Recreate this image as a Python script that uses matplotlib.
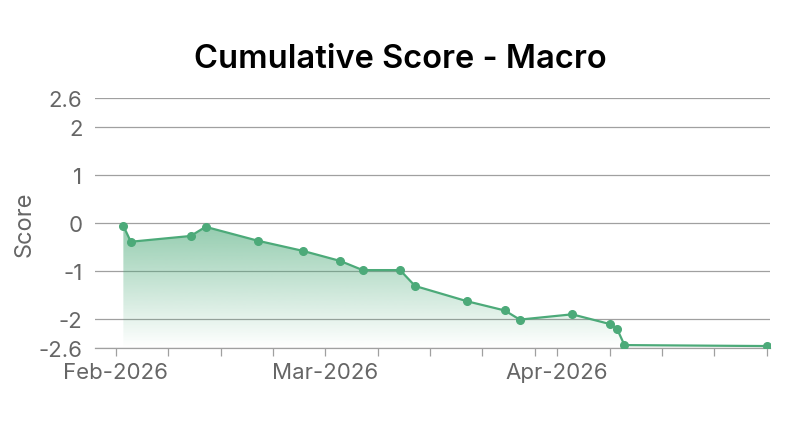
import numpy as np
import pandas as pd
import matplotlib
matplotlib.use("Agg")
import matplotlib.pyplot as plt
import matplotlib.dates as mdates

dates = ["2026-02-02", "2026-02-03", "2026-02-11", "2026-02-13", "2026-02-20",
         "2026-02-26", "2026-03-03", "2026-03-06", "2026-03-11", "2026-03-13",
         "2026-03-20", "2026-03-25", "2026-03-27", "2026-04-03", "2026-04-08",
         "2026-04-09", "2026-04-10", "2026-04-29"]
scores = [-0.06, -0.39, -0.27, -0.08, -0.37, -0.58, -0.79, -0.98, -0.98, -1.31,
          -1.63, -1.82, -2.01, -1.90, -2.10, -2.20, -2.54, -2.56]
yticks = [-2.6, -2, -1, 0, 1, 2, 2.6]
ytick_labels = ["-2.6", "-2", "-1", "0", "1", "2", "2.6"]

plt.rcParams['font.family'] = ['Inter', 'DejaVu Sans']
green = '#4caa79'
grey = '#666666'

x = mdates.date2num(pd.to_datetime(dates))
y = np.array(scores)

fig = plt.figure(figsize=(8, 4.31), dpi=100)
ax = fig.add_axes([0.11875, 0.1903, 0.84375, 0.58])

ymin, ymax = -2.6, 2.6

# gradient fill under the line
poly = ax.fill_between(x, y, ymin, color='none', lw=0)
grad = np.zeros((256, 1, 4))
r, g, b = matplotlib.colors.to_rgb(green)
grad[:, 0, 0] = r
grad[:, 0, 1] = g
grad[:, 0, 2] = b
grad[:, 0, 3] = np.linspace(0.6, 0.0, 256)
top = y.max()
im = ax.imshow(grad, aspect='auto', extent=[x.min(), x.max(), ymin, top],
               origin='upper', zorder=1)
im.set_clip_path(poly.get_paths()[0], transform=ax.transData)

ax.plot(x, y, color=green, lw=1.6, marker='o', ms=5.5, zorder=3)

ax.set_ylim(ymin, ymax)
ax.set_xlim(mdates.date2num(pd.Timestamp("2026-01-29 05:00")),
            mdates.date2num(pd.Timestamp("2026-04-29 11:00")))
ax.set_yticks(yticks)
ax.set_yticklabels(ytick_labels)
ax.grid(axis='y', color='#a0a0a0', lw=0.9)
ax.set_axisbelow(True)

ax.xaxis.set_major_locator(mdates.MonthLocator())
ax.xaxis.set_major_formatter(mdates.DateFormatter('%b-%Y'))
ax.xaxis.set_minor_locator(mdates.DayLocator(bymonthday=[1, 8, 15, 22, 29]))

for s in ['top', 'right', 'left']:
    ax.spines[s].set_visible(False)
ax.spines['bottom'].set_color('#a0a0a0')
ax.spines['bottom'].set_linewidth(0.9)

ax.tick_params(axis='y', length=0, pad=9, labelsize=16, labelcolor=grey)
ax.tick_params(axis='x', which='both', length=6, width=0.9, color='#a0a0a0',
               labelsize=16, labelcolor=grey, pad=4)

ax.set_ylabel("Score", fontsize=17, color=grey, labelpad=2)
fig.suptitle("Cumulative Score - Macro", fontsize=23.5, fontweight='semibold',
             color='black', y=0.897)

fig.savefig("out.png", dpi=100)
